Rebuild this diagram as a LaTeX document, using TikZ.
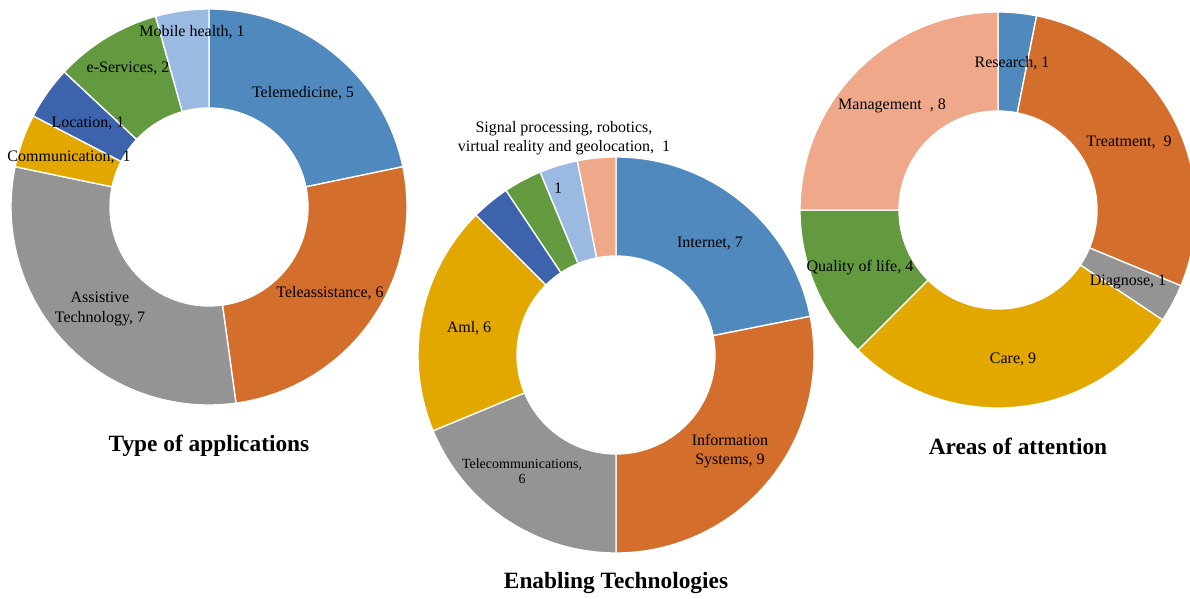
\documentclass[tikz,border=0pt]{standalone}
\usepackage{fontspec}
\setmainfont{Liberation Serif}
\usetikzlibrary{positioning}

\definecolor{sliceblue}{RGB}{79,137,190}
\definecolor{sliceorange}{RGB}{211,110,44}
\definecolor{slicegray}{RGB}{148,148,148}
\definecolor{slicegold}{RGB}{226,168,0}
\definecolor{slicenavy}{RGB}{60,99,172}
\definecolor{slicegreen}{RGB}{99,154,63}
\definecolor{slicesky}{RGB}{155,186,225}
\definecolor{slicesalmon}{RGB}{240,168,138}

\newcommand{\outerR}{198}
\newcommand{\innerR}{99}
% #1 centre, #2 from angle, #3 to angle, #4 colour (angles run clockwise, top = -90)
\newcommand{\ringslice}[4]{%
  \filldraw[ring, fill=#4, shift={#1}] (#2:\outerR) arc[start angle=#2, end angle=#3, radius=\outerR]
    -- (#3:\innerR) arc[start angle=#3, end angle=#2, radius=\innerR] -- cycle;}

\tikzset{
  ring/.style={draw=white, line width=1pt, line join=round},
  lbl/.style={font=\fontsize{12}{14.5}\selectfont, align=center, inner sep=0pt},
  smalllbl/.style={font=\fontsize{10.5}{11.5}\selectfont, align=center, inner sep=0pt},
  ttl/.style={font=\fontsize{17.5}{20}\selectfont\bfseries, inner sep=0pt}
}

\begin{document}
\begin{tikzpicture}[x=0.75pt,y=-0.75pt]
    \useasboundingbox (0,0) rectangle (1190,599);
    \clip (0,0) rectangle (1190,599);

    % type of applications
    \ringslice{(209,207)}{-90}{-11.74}{sliceblue}
    \ringslice{(209,207)}{-11.74}{82.17}{sliceorange}
    \ringslice{(209,207)}{82.17}{191.74}{slicegray}
    \ringslice{(209,207)}{191.74}{207.39}{slicegold}
    \ringslice{(209,207)}{207.39}{223.04}{slicenavy}
    \ringslice{(209,207)}{223.04}{254.35}{slicegreen}
    \ringslice{(209,207)}{254.35}{270}{slicesky}

    % enabling technologies
    \ringslice{(616,355)}{-90}{-11.25}{sliceblue}
    \ringslice{(616,355)}{-11.25}{90}{sliceorange}
    \ringslice{(616,355)}{90}{157.5}{slicegray}
    \ringslice{(616,355)}{157.5}{225}{slicegold}
    \ringslice{(616,355)}{225}{236.25}{slicenavy}
    \ringslice{(616,355)}{236.25}{247.5}{slicegreen}
    \ringslice{(616,355)}{247.5}{258.75}{slicesky}
    \ringslice{(616,355)}{258.75}{270}{slicesalmon}

    % areas of attention
    \ringslice{(998,210)}{-90}{-78.75}{sliceblue}
    \ringslice{(998,210)}{-78.75}{22.5}{sliceorange}
    \ringslice{(998,210)}{22.5}{33.75}{slicegray}
    \ringslice{(998,210)}{33.75}{135}{slicegold}
    \ringslice{(998,210)}{135}{180}{slicegreen}
    \ringslice{(998,210)}{180}{270}{slicesalmon}

    % labels
    \node (telemed) at (303,93) [lbl] {Telemedicine, 5};
    \node (teleassist) at (330,293) [lbl] {Teleassistance, 6};
    \node (assistive) at (100,309) [lbl] {Assistive\\Technology,\ 7};
    \node (commun) at (69,157) [lbl] {Communication,\ \ 1};
    \node (location) at (88,123) [lbl] {Location, 1};
    \node (eserv) at (128,68) [lbl] {e-Services, 2};
    \node (mobile) at (192,32) [lbl] {Mobile health,\ 1};

    \node (internet) at (710,243) [lbl] {Internet,\ 7};
    \node (infosys) at (730,451) [lbl] {Information\\Systems,\ 9};
    \node (telecom) at (522,471) [smalllbl] {Telecommunications,\\6};
    \node (aml) at (469,328) [lbl] {Aml, 6};
    \node (skyone) at (558,188) [lbl] {1};
    \node (signal) at (564,138) [lbl] {Signal processing, robotics,\\virtual reality and geolocation,\ \ 1};

    \node (research) at (1012,63) [lbl] {Research, 1};
    \node (treatment) at (1129,142) [lbl] {Treatment,\ \ 9};
    \node (diagnose) at (1128,282) [lbl] {Diagnose, 1};
    \node (care) at (1013,359) [lbl] {Care, 9};
    \node (quality) at (860,268) [lbl] {Quality of life, 4};
    \node (manage) at (892,106) [lbl] {Management\ \ , 8};

    % titles
    \node (typetitle) at (209,446) [ttl] {Type of applications};
    \node (enabletitle) at (616,583) [ttl] {Enabling Technologies};
    \node (areastitle) at (1018,446) [ttl] {Areas of attention};
\end{tikzpicture}
\end{document}
